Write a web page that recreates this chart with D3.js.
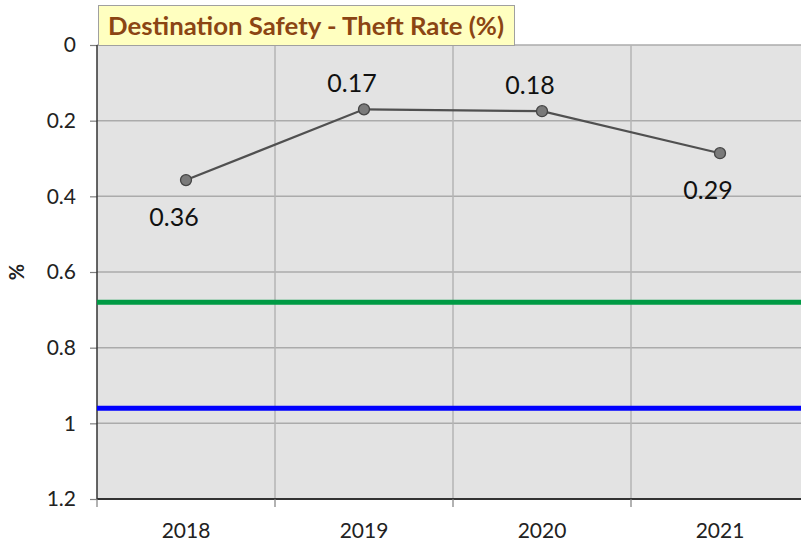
<!DOCTYPE html>
<html>
<head>
<meta charset="utf-8">
<script src="https://cdn.jsdelivr.net/npm/d3@7"></script>
<style>
  body { margin: 0; background: #fff; }
  svg { display: block; font-family: Lato, "Open Sans", sans-serif; }
</style>
</head>
<body>
<svg id="chart" width="801" height="547"></svg>
<script>
let years = ["2018", "2019", "2020", "2021"];
let theft_rate = [0.357, 0.17, 0.175, 0.286];
let rate_labels = ["0.36", "0.17", "0.18", "0.29"];
let label_pos = ["below", "above", "above", "below"];
let ref_lines = [{ value: 0.68, color: "#009a44" }, { value: 0.96, color: "#0000ff" }];
let y_ticks = [0, 0.2, 0.4, 0.6, 0.8, 1, 1.2];

let svg = d3.select("#chart");
let margin = { left: 97, top: 45, right: 809, bottom: 499 };

let x = d3.scaleBand()
	.domain(years)
	.range([margin.left, margin.right]);

let y = d3.scaleLinear()
	.domain([0, 1.2])
	.range([margin.top, margin.bottom]);

// plot background
svg.append("rect")
	.attr("x", margin.left)
	.attr("y", margin.top)
	.attr("width", margin.right - margin.left)
	.attr("height", margin.bottom - margin.top)
	.style("fill", "#e3e3e3");

// horizontal grid
svg.append("g")
	.selectAll("line")
	.data(y_ticks)
	.join("line")
	.attr("x1", margin.left)
	.attr("x2", margin.right)
	.attr("y1", d => y(d))
	.attr("y2", d => y(d))
	.style("stroke", "#ababab")
	.style("stroke-width", 1.5);

// vertical grid at category boundaries
svg.append("g")
	.selectAll("line")
	.data(years.slice(1))
	.join("line")
	.attr("x1", d => x(d))
	.attr("x2", d => x(d))
	.attr("y1", margin.top)
	.attr("y2", margin.bottom)
	.style("stroke", "#b5b5b5")
	.style("stroke-width", 1.5);

// y axis
let yAxis = d3.axisLeft(y)
	.tickValues(y_ticks)
	.tickSize(7)
	.tickPadding(14)
	.tickFormat(d => d);
let yg = svg.append("g")
	.attr("transform", `translate(${margin.left},0)`)
	.call(yAxis);
yg.select(".domain").remove();
yg.selectAll(".tick line").style("stroke", "#7f7f7f").style("stroke-width", 1.2);
yg.selectAll(".tick text").style("font-size", "21px").style("fill", "#222").style("font-family", "Lato, sans-serif");

svg.append("line")
	.attr("x1", margin.left).attr("x2", margin.left)
	.attr("y1", margin.top).attr("y2", margin.bottom)
	.style("stroke", "#333").style("stroke-width", 1.5);

// x axis
let boundaries = years.map(d => x(d)).concat([margin.right]);
svg.append("line")
	.attr("x1", margin.left).attr("x2", margin.right)
	.attr("y1", margin.bottom).attr("y2", margin.bottom)
	.style("stroke", "#333").style("stroke-width", 2);
svg.append("g")
	.selectAll("line")
	.data(boundaries)
	.join("line")
	.attr("x1", d => d).attr("x2", d => d)
	.attr("y1", margin.bottom).attr("y2", margin.bottom + 8)
	.style("stroke", "#7f7f7f").style("stroke-width", 1.2);
svg.append("g")
	.selectAll("text")
	.data(years)
	.join("text")
	.attr("x", d => x(d) + x.bandwidth() / 2)
	.attr("y", 538)
	.attr("text-anchor", "middle")
	.style("font-size", "21px")
	.style("fill", "#222")
	.text(d => d);

// axis title
svg.append("text")
	.attr("transform", "translate(24,272) rotate(-90)")
	.attr("text-anchor", "middle")
	.style("font-size", "20px")
	.style("font-weight", "bold")
	.style("fill", "#222")
	.text("%");

// reference lines
svg.append("g")
	.selectAll("line")
	.data(ref_lines)
	.join("line")
	.attr("x1", margin.left)
	.attr("x2", margin.right)
	.attr("y1", d => y(d.value))
	.attr("y2", d => y(d.value))
	.style("stroke", d => d.color)
	.style("stroke-width", 5);

// series line
let pts = years.map((d, i) => [x(d) + x.bandwidth() / 2, y(theft_rate[i])]);
svg.append("path")
	.datum(pts)
	.attr("d", d3.line())
	.style("fill", "none")
	.style("stroke", "#505050")
	.style("stroke-width", 2.2);

svg.append("g")
	.selectAll("circle")
	.data(pts)
	.join("circle")
	.attr("cx", d => d[0])
	.attr("cy", d => d[1])
	.attr("r", 5.5)
	.style("fill", "#7a7a7a")
	.style("stroke", "#454545")
	.style("stroke-width", 1.3);

svg.append("g")
	.selectAll("text")
	.data(pts)
	.join("text")
	.attr("x", d => d[0] - 12)
	.attr("y", (d, i) => label_pos[i] == "above" ? d[1] - 17 : d[1] + 46)
	.attr("text-anchor", "middle")
	.style("font-size", "25px")
	.style("fill", "#111")
	.text((d, i) => rate_labels[i]);

// title box
svg.append("rect")
	.attr("x", 98.5)
	.attr("y", 5.5)
	.attr("width", 416)
	.attr("height", 40)
	.style("fill", "#ffffc0")
	.style("stroke", "#a0a0a0")
	.style("stroke-width", 1);
svg.append("text")
	.attr("x", 306)
	.attr("y", 35)
	.attr("text-anchor", "middle")
	.attr("textLength", 396)
	.attr("lengthAdjust", "spacingAndGlyphs")
	.style("font-size", "25px")
	.style("font-weight", "bold")
	.style("fill", "#8b4513")
	.text("Destination Safety - Theft Rate (%)");
</script>
</body>
</html>
